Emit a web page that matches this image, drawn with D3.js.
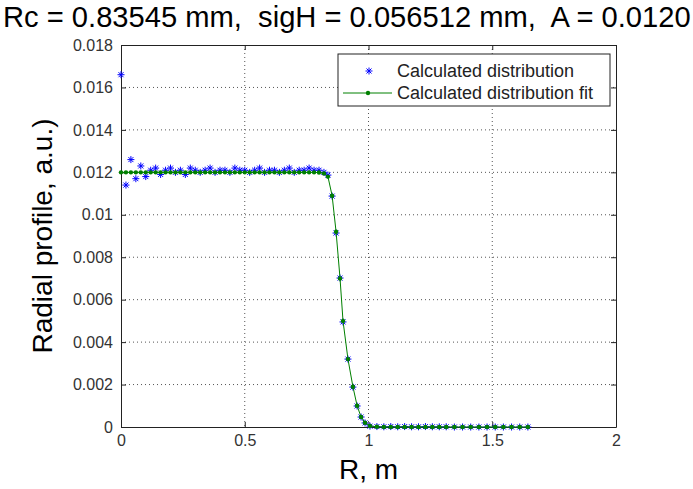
<!DOCTYPE html>
<html>
<head>
<meta charset="utf-8">
<script src="https://cdn.jsdelivr.net/npm/d3@7"></script>
<style>
  body { margin: 0; background: #fff; }
  svg { display: block; font-family: "Liberation Sans", Arial, sans-serif; }
</style>
</head>
<body>
<div id="chart"></div>
<script>
// radius grid (m)
var rVals = [0.00, 0.02, 0.04, 0.06, 0.08, 0.10, 0.12, 0.14, 0.16, 0.18,
  0.20, 0.22, 0.24, 0.26, 0.28, 0.30, 0.32, 0.34, 0.36, 0.38,
  0.40, 0.42, 0.44, 0.46, 0.48, 0.50, 0.52, 0.54, 0.56, 0.58,
  0.60, 0.62, 0.64, 0.66, 0.68, 0.70, 0.72, 0.74, 0.76, 0.78,
  0.80, 0.82,
  0.836, 0.853, 0.869, 0.885, 0.897, 0.917, 0.937, 0.954, 0.970, 0.986,
  1.006, 1.034, 1.062, 1.090, 1.118, 1.146, 1.174, 1.202, 1.230, 1.258,
  1.286, 1.314, 1.347, 1.380, 1.413, 1.446, 1.479, 1.512, 1.545, 1.578,
  1.611, 1.644];

// calculated distribution (stars)
var calcVals = [0.0166, 0.0114, 0.0126, 0.0117, 0.0123, 0.0118, 0.0121, 0.0122, 0.0119, 0.0121,
  0.0122, 0.0120, 0.0121, 0.0119, 0.0122, 0.0121, 0.0120, 0.0121, 0.0122, 0.0120,
  0.0121, 0.0121, 0.0120, 0.0122, 0.0121, 0.0121, 0.0120, 0.0121, 0.0122, 0.0120,
  0.0121, 0.0121, 0.0120, 0.0121, 0.0122, 0.0120, 0.0121, 0.0121, 0.0122, 0.0121,
  0.0121, 0.0120,
  0.01187, 0.01088, 0.00914, 0.00702, 0.00495, 0.00320, 0.00188, 0.00099, 0.00047, 0.00019,
  0.00004, 0.00002, 0.00001, 0.00002, 0.00001, 0.00002, 0.00001, 0.00001, 0.00002, 0.00001,
  0.00001, 0.00001, 0.00000, 0.00000, 0.00000, 0.00000, 0.00000, 0.00000, 0.00000, 0.00000,
  0.00000, 0.00000];

// fitted curve (green line + dots)
var fitVals = [0.0120, 0.0120, 0.0120, 0.0120, 0.0120, 0.0120, 0.0120, 0.0120, 0.0120, 0.0120,
  0.0120, 0.0120, 0.0120, 0.0120, 0.0120, 0.0120, 0.0120, 0.0120, 0.0120, 0.0120,
  0.0120, 0.0120, 0.0120, 0.0120, 0.0120, 0.0120, 0.0120, 0.0120, 0.0120, 0.0120,
  0.0120, 0.0120, 0.0120, 0.0120, 0.0120, 0.0120, 0.0120, 0.0120, 0.0120, 0.0120,
  0.01199, 0.01195,
  0.0118, 0.0109, 0.0092, 0.0070, 0.0050, 0.0032, 0.0019, 0.0010, 0.00047, 0.0002,
  0.00005, 0.00001, 0.0, 0.0, 0.0, 0.0, 0.0, 0.0, 0.0, 0.0,
  0.0, 0.0, 0.0, 0.0, 0.0, 0.0, 0.0, 0.0, 0.0, 0.0,
  0.0, 0.0];

var xTicks = [0, 0.5, 1, 1.5, 2];
var xTickLabels = ["0", "0.5", "1", "1.5", "2"];
var yTicks = [0, 0.002, 0.004, 0.006, 0.008, 0.01, 0.012, 0.014, 0.016, 0.018];
var yTickLabels = ["0", "0.002", "0.004", "0.006", "0.008", "0.01", "0.012", "0.014", "0.016", "0.018"];
var legendLabels = ["Calculated distribution", "Calculated distribution fit"];
var titleText = "Rc = 0.83545 mm,  sigH = 0.056512 mm,  A = 0.0120";

var W = 693, H = 489;
var margin = {top: 45, right: 77, bottom: 62, left: 121};
var width = W - margin.left - margin.right,
    height = H - margin.top - margin.bottom;

var svg = d3.select("#chart").append("svg")
  .attr("width", W).attr("height", H);

var g = svg.append("g")
  .attr("transform", "translate(" + margin.left + "," + margin.top + ")");

var x = d3.scaleLinear().domain([0, 2]).range([0, width]);
var y = d3.scaleLinear().domain([0, 0.018]).range([height, 0]);

// grid
g.selectAll(".gx").data(xTicks.slice(1, -1)).enter().append("line")
  .attr("x1", d => x(d)).attr("x2", d => x(d))
  .attr("y1", 0).attr("y2", height)
  .attr("stroke", "#555").attr("stroke-dasharray", "1,3");
g.selectAll(".gy").data(yTicks.slice(1, -1)).enter().append("line")
  .attr("y1", d => y(d)).attr("y2", d => y(d))
  .attr("x1", 0).attr("x2", width)
  .attr("stroke", "#555").attr("stroke-dasharray", "1,3");

// axes (ticks inward)
var axB = g.append("g").attr("transform", "translate(0," + height + ")")
  .call(d3.axisBottom(x).tickValues(xTicks).tickSizeInner(-5).tickSizeOuter(0).tickPadding(8)
    .tickFormat((d, i) => xTickLabels[i]));
var axT = g.append("g")
  .call(d3.axisTop(x).tickValues(xTicks).tickSizeInner(-5).tickSizeOuter(0).tickFormat(""));
var axL = g.append("g")
  .call(d3.axisLeft(y).tickValues(yTicks).tickSizeInner(-5).tickSizeOuter(0).tickPadding(8)
    .tickFormat((d, i) => yTickLabels[i]));
var axR = g.append("g").attr("transform", "translate(" + width + ",0)")
  .call(d3.axisRight(y).tickValues(yTicks).tickSizeInner(-5).tickSizeOuter(0).tickFormat(""));
[axB, axT, axL, axR].forEach(function(a) {
  a.select(".domain").attr("stroke", "#222");
  a.selectAll(".tick line").attr("stroke", "#222");
  a.selectAll("text").attr("font-size", 16).attr("fill", "#333")
    .style("font-family", "'Liberation Sans', Arial, sans-serif");
});

var pts = rVals.map((r, i) => ({r: r, c: calcVals[i], f: fitVals[i]}));

var star = "M-3.5,0H3.5M0,-3.5V3.5M-2.5,-2.5L2.5,2.5M-2.5,2.5L2.5,-2.5";

// calculated distribution stars
g.selectAll(".star").data(pts).enter().append("path")
  .attr("d", star)
  .attr("transform", d => "translate(" + x(d.r) + "," + y(d.c) + ")")
  .attr("stroke", "#0000ff").attr("stroke-width", 1).attr("fill", "none");

// fit line
var line = d3.line().x(d => x(d.r)).y(d => y(d.f));
g.append("path").datum(pts)
  .attr("d", line).attr("fill", "none")
  .attr("stroke", "#008000").attr("stroke-width", 1);
g.selectAll(".dot").data(pts).enter().append("circle")
  .attr("cx", d => x(d.r)).attr("cy", d => y(d.f)).attr("r", 2.2)
  .attr("fill", "#008000");

// legend
var lg = g.append("g").attr("transform", "translate(217,9)");
lg.append("rect").attr("width", 272).attr("height", 52)
  .attr("fill", "#fff").attr("stroke", "#222");
lg.append("path").attr("d", star).attr("transform", "translate(31,17)")
  .attr("stroke", "#0000ff").attr("fill", "none");
lg.append("line").attr("x1", 5).attr("x2", 54).attr("y1", 39).attr("y2", 39)
  .attr("stroke", "#008000");
lg.append("circle").attr("cx", 30).attr("cy", 39).attr("r", 2.2).attr("fill", "#008000");
lg.selectAll(".lt").data(legendLabels).enter().append("text")
  .attr("x", 59).attr("y", (d, i) => 23 + i * 22)
  .attr("font-size", 18).attr("fill", "#222")
  .text(d => d);

// title, sized so it spans the whole width like the source
var title = svg.append("text")
  .attr("x", 3).attr("y", 27)
  .attr("font-size", 22).attr("fill", "#000")
  .style("white-space", "pre")
  .text(titleText);
var tw = title.node().getComputedTextLength();
title.attr("font-size", 22 * 688 / tw);

// axis labels
svg.append("text")
  .attr("x", margin.left + width / 2).attr("y", 479)
  .attr("text-anchor", "middle").attr("font-size", 28).attr("fill", "#000")
  .text("R, m");
svg.append("text")
  .attr("transform", "translate(52," + (margin.top + height / 2) + ") rotate(-90)")
  .attr("text-anchor", "middle").attr("font-size", 28).attr("fill", "#000")
  .text("Radial profile, a.u.)");
</script>
</body>
</html>
